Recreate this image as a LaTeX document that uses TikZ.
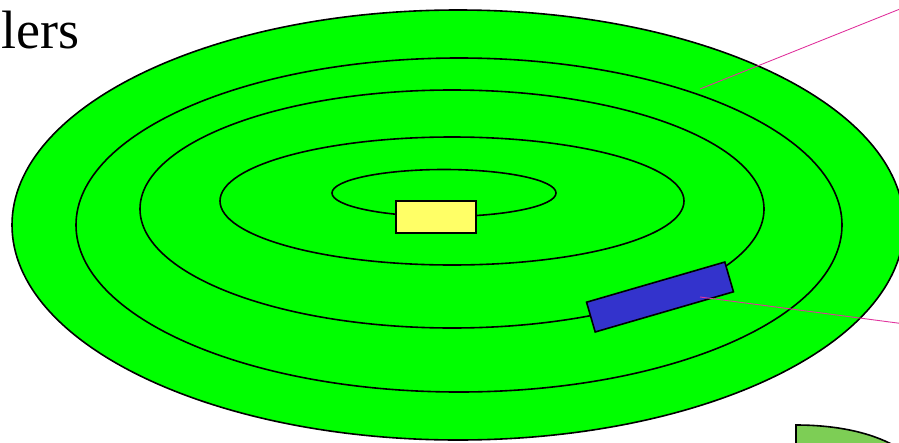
\documentclass[tikz,border=0pt]{standalone}
\usepackage{fontspec}
\setmainfont{Liberation Serif}
\definecolor{platter}{HTML}{00FF00}
\definecolor{hub}{HTML}{FFFF66}
\definecolor{head}{HTML}{3333CC}
\definecolor{pointer}{HTML}{E0359E}
\definecolor{pie}{HTML}{7DCE55}
\tikzset{
  track/.style={draw=black,line width=1.6pt},
  hubbox/.style={draw=black,line width=1.6pt,fill=hub,minimum width=80pt,minimum height=32pt,inner sep=0pt},
  headbox/.style={draw=black,line width=1.6pt,fill=head,minimum width=144pt,minimum height=31pt,inner sep=0pt},
  callout/.style={draw=pointer,line width=0.9pt}
}
\begin{document}
\begin{tikzpicture}[x=1pt,y=-1pt]
\useasboundingbox (0,0) rectangle (899,442);
\begin{scope}
\clip (0,0) rectangle (899,442);

%==== platter ====
\draw[track,fill=platter] (458,225) ellipse [x radius=446,y radius=215];
\draw[track] (459,225) ellipse [x radius=383,y radius=167];
\draw[track] (452,209) ellipse [x radius=312,y radius=119];
\draw[track] (452,201) ellipse [x radius=232,y radius=64];
\draw[track] (444,193) ellipse [x radius=112,y radius=23.5];

% spindle and head
\node[hubbox] (spindle) at (436,217) {};
\node[headbox,rotate=16.2] (arm) at (660,297) {};

% callout lines
\coordinate (trackpt) at (700,89);
\coordinate (trackend) at (905,7);
\coordinate (headpt) at (700,297);
\coordinate (headend) at (905,324);
\draw[callout] (trackpt) -- (trackend);
\draw[callout] (headpt) -- (headend);

% next figure, cut off
\draw[line width=1.6pt,fill=pie] (796,450) -- (796,425)
  .. controls (835,425) and (870,432) .. (895,446);

% title, cut off
\node[anchor=base west,inner sep=0pt,font=\fontsize{54}{60}\selectfont] (title) at (1,48) {lers};
\end{scope}
\end{tikzpicture}
\end{document}
